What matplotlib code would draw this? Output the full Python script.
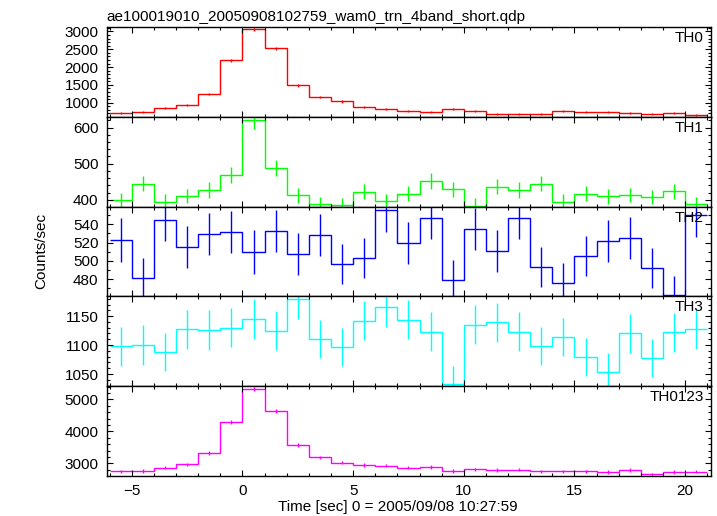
import matplotlib
matplotlib.use('Agg')
import matplotlib.pyplot as plt
from matplotlib.ticker import MultipleLocator
import numpy as np

plt.rcParams['font.family'] = ['Liberation Sans', 'DejaVu Sans']
plt.rcParams['font.size'] = 11

# bin centres (1 s bins) and edges
time = [-5.5, -4.5, -3.5, -2.5, -1.5, -0.5, 0.5, 1.5, 2.5, 3.5, 4.5, 5.5, 6.5, 7.5,
        8.5, 9.5, 10.5, 11.5, 12.5, 13.5, 14.5, 15.5, 16.5, 17.5, 18.5, 19.5, 20.5]
edges = [-6, -5, -4, -3, -2, -1, 0, 1, 2, 3, 4, 5, 6, 7, 8, 9, 10, 11, 12, 13, 14,
         15, 16, 17, 18, 19, 20, 21]

th0 = [721, 730, 841, 925, 1245, 2187, 3055, 2523, 1486, 1160, 1038, 880, 810, 780,
       749, 810, 768, 685, 680, 680, 757, 750, 750, 712, 684, 712, 656]
th0_err = [27, 27, 29, 30, 35, 47, 55, 50, 39, 34, 32, 30, 28, 28,
           27, 28, 28, 26, 26, 26, 28, 27, 27, 27, 26, 27, 26]

th1 = [400, 444, 395, 410, 427, 468, 620, 488, 412, 388, 386, 422, 397, 417,
       452, 429, 384, 436, 427, 444, 395, 417, 409, 413, 407, 424, 388]
th1_err = [20, 21, 20, 20, 21, 22, 25, 22, 20, 20, 20, 21, 20, 20,
           21, 21, 20, 21, 21, 21, 20, 20, 20, 20, 20, 21, 20]

th2 = [523, 481, 545, 515, 529, 532, 510, 533, 508, 528, 497, 503, 556, 520,
       547, 479, 535, 511, 547, 493, 476, 505, 522, 525, 492, 462, 550]
th2_err = [24, 22, 23, 23, 23, 23, 24, 23, 23, 23, 22, 22, 24, 23,
           23, 22, 23, 23, 23, 22, 22, 22, 23, 23, 22, 21, 24]

th3 = [1098, 1100, 1088, 1127, 1126, 1130, 1145, 1125, 1179, 1110, 1097, 1142, 1165, 1144,
       1123, 1032, 1135, 1139, 1123, 1099, 1114, 1079, 1054, 1120, 1078, 1122, 1127]
th3_err = [34, 34, 33, 34, 34, 34, 34, 34, 34, 33, 33, 34, 34, 34,
           34, 32, 34, 34, 34, 33, 33, 33, 32, 33, 33, 34, 34]

th0123 = [2755, 2760, 2864, 2969, 3333, 4302, 5333, 4646, 3583, 3187, 3021, 2948, 2927, 2864,
          2885, 2760, 2812, 2792, 2800, 2750, 2750, 2750, 2729, 2792, 2656, 2729, 2740]
th0123_err = [52, 53, 54, 54, 58, 66, 73, 68, 60, 56, 55, 54, 54, 54,
              54, 53, 53, 53, 53, 52, 52, 52, 52, 53, 52, 52, 52]

panels = [
    ('TH0', th0, th0_err, '#ff0000', (605, 3125), 500, 100),
    ('TH1', th1, th1_err, '#00ff00', (381, 630), 100, 20),
    ('TH2', th2, th2_err, '#0000ff', (461, 559.5), 20, 10),
    ('TH3', th3, th3_err, '#00ffff', (1029, 1184), 50, 10),
    ('TH0123', th0123, th0123_err, '#ff00ff', (2604, 5416), 1000, 200),
]

fig, axes = plt.subplots(5, 1, sharex=True, figsize=(7.17, 5.16), dpi=100)
fig.subplots_adjust(left=0.149, right=0.9916, top=0.9477, bottom=0.0775, hspace=0)

for ax, (name, vals, errs, col, ylim, major, minor) in zip(axes, panels):
    ax.stairs(vals, edges, baseline=None, color=col, linewidth=1.0)
    ax.errorbar(time, vals, yerr=errs, fmt='none', ecolor=col, elinewidth=1.0, capsize=0)
    ax.set_ylim(*ylim)
    ax.set_xlim(-6.13, 21.17)
    ax.yaxis.set_major_locator(MultipleLocator(major))
    ax.yaxis.set_minor_locator(MultipleLocator(minor))
    ax.xaxis.set_major_locator(MultipleLocator(5))
    ax.xaxis.set_minor_locator(MultipleLocator(1))
    ax.tick_params(which='both', direction='in', top=True, right=True, width=0.8)
    ax.tick_params(which='major', length=4.5, pad=6)
    ax.tick_params(which='minor', length=2.4)
    for s in ax.spines.values():
        s.set_linewidth(1.0)
    ax.text(0.988, 0.955, name, transform=ax.transAxes, ha='right', va='top')

fig.text(0.149, 0.96, 'ae100019010_20050908102759_wam0_trn_4band_short.qdp',
         ha='left', va='baseline')
fig.text(0.057, 0.513, 'Counts/sec', rotation=90, ha='center', va='center')
fig.text(0.555, 0.017, 'Time [sec] 0 = 2005/09/08 10:27:59', ha='center', va='center')

fig.savefig('out.png', dpi=100)
